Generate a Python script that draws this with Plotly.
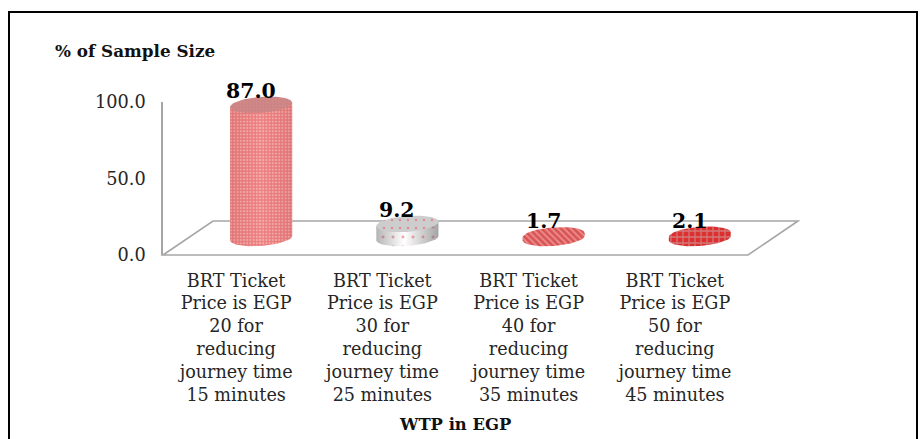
import numpy as np
import plotly.graph_objects as go

categories = [
    "BRT Ticket<br>Price is EGP<br>20 for<br>reducing<br>journey time<br>15 minutes",
    "BRT Ticket<br>Price is EGP<br>30 for<br>reducing<br>journey time<br>25 minutes",
    "BRT Ticket<br>Price is EGP<br>40 for<br>reducing<br>journey time<br>35 minutes",
    "BRT Ticket<br>Price is EGP<br>50 for<br>reducing<br>journey time<br>45 minutes",
]
values = [87.0, 9.2, 1.7, 2.1]
value_labels = ["87.0", "9.2", "1.7", "2.1"]
y_ticks = [0, 50, 100]
y_tick_labels = ["0.0", "50.0", "100.0"]
y_title = "% of Sample Size"
x_title = "WTP in EGP"

W, H = 920, 439
FONT = "DejaVu Serif"
X = lambda p: p / W
Y = lambda p: 1 - p / H

AX_L, AX_R, AX_T, AX_B = 163, 748, 102, 255   # front plane
DX, DY = 50, 34                               # floor depth
BAR_DX, BAR_DY = 25, 17                       # bars stand mid-depth
BAR_HEADROOM = 30                             # room above the axis so the top cap is not clipped
unit = (AX_B - AX_T) / 100
BAR_W = 0.425
cap_b = 8.0 / unit
tilt = 2.2 / unit

styles = [
    dict(shade=[[0, "rgba(150,40,40,0.14)"], [0.5, "rgba(150,40,40,0)"], [1, "rgba(150,40,40,0.14)"]],
         pat=dict(shape=".", fgcolor="#fde8e8", bgcolor="#ee7f7f", size=3.2, solidity=0.35),
         cap=dict(shape=".", fgcolor="#e88a8a", bgcolor="#c98585", size=3.2, solidity=0.35)),
    dict(shade=[[0, "rgba(90,90,90,0.45)"], [0.45, "rgba(90,90,90,0)"], [1, "rgba(90,90,90,0.55)"]],
         pat=dict(shape=".", fgcolor="#e8505a", bgcolor="#ffffff", size=10, solidity=0.07),
         cap=dict(shape=".", fgcolor="#e8505a", bgcolor="#cdcdcd", size=8, solidity=0.08)),
    dict(shade=[[0, "rgba(180,20,20,0)"], [1, "rgba(180,20,20,0)"]],
         pat=dict(shape="\\", fgcolor="#c41c1c", bgcolor="#ec8c8c", size=4.5, solidity=0.6),
         cap=dict(shape="\\", fgcolor="#c41c1c", bgcolor="#ec8c8c", size=4.5, solidity=0.6)),
    dict(shade=[[0, "rgba(230,30,30,0)"], [1, "rgba(230,30,30,0)"]],
         pat=dict(shape="+", fgcolor="#cdbcbc", bgcolor="#dc3030", size=6, solidity=0.38),
         cap=dict(shape="+", fgcolor="#cdbcbc", bgcolor="#dc3030", size=6, solidity=0.38)),
]

t = np.linspace(0, 2 * np.pi, 73)
fig = go.Figure()

# keeps the front axes drawn
fig.add_trace(go.Scatter(x=[0], y=[0], xaxis="x", yaxis="y", mode="markers",
                         marker=dict(opacity=0), hoverinfo="skip", showlegend=False))

for i, (v, s) in enumerate(zip(values, styles)):
    a = np.linspace(np.pi, 2 * np.pi, 37)
    sx = np.concatenate([i + BAR_W / 2 * np.cos(a), [i + BAR_W / 2, i - BAR_W / 2]])
    sy = np.concatenate([cap_b * np.sin(a) + tilt * np.cos(a), [v + tilt, v - tilt]])
    common = dict(xaxis="x2", yaxis="y2", mode="lines", line=dict(width=0), fill="toself",
                  hoverinfo="skip", showlegend=False, cliponaxis=False)
    # cylinder side
    fig.add_trace(go.Scatter(x=sx, y=sy, fillpattern=s["pat"], **common))
    # the value bar
    fig.add_trace(go.Bar(
        x=[i], y=[v], width=BAR_W * 0.94, xaxis="x2", yaxis="y2", showlegend=False,
        marker=dict(color=s["pat"]["bgcolor"], line=dict(width=0), pattern=s["pat"]), cliponaxis=False))
    # side shading
    fig.add_trace(go.Scatter(x=sx, y=sy, fillgradient=dict(type="horizontal", colorscale=s["shade"]), **common))
    # top cap
    fig.add_trace(go.Scatter(x=i + BAR_W / 2 * np.cos(t), y=v + cap_b * np.sin(t) + tilt * np.cos(t),
                             fillpattern=s["cap"], **common))

GREY = "#a6a6a6"
shapes = [
    dict(type="path", xref="paper", yref="paper", layer="below", line=dict(color="#000000", width=2),
         path=f"M{X(9)},{Y(445)} L{X(9)},{Y(12)} L{X(917)},{Y(12)} L{X(917)},{Y(445)}"),
    dict(type="path", xref="paper", yref="paper", layer="below", line=dict(color=GREY, width=1.6),
         path=f"M{X(AX_L)},{Y(AX_B)} L{X(AX_R)},{Y(AX_B)} L{X(AX_R+DX)},{Y(AX_B-DY)} "
              f"L{X(AX_L+DX)},{Y(AX_B-DY)} Z"),
]

annotations = [
    dict(text=f"<b>{y_title}</b>", xref="paper", yref="paper", x=X(53), y=Y(51), xanchor="left",
         yanchor="middle", showarrow=False, font=dict(family=FONT, size=16.8, color="#111111")),
    dict(text=f"<b>{x_title}</b>", xref="paper", yref="paper", x=X(455), y=Y(424), xanchor="center",
         yanchor="middle", showarrow=False, font=dict(family=FONT, size=16.4, color="#111111")),
]
for i, (v, lab) in enumerate(zip(values, value_labels)):
    annotations.append(dict(
        text=f"<b>{lab}</b>", xref="x2", yref="y2", x=i, y=v, xshift=-10.5, yshift=14,
        xanchor="center", yanchor="middle", showarrow=False,
        font=dict(family=FONT, size=20.4, color="#000000")))

fig.update_layout(
    width=W, height=H, autosize=False, margin=dict(l=0, r=0, t=0, b=0),
    paper_bgcolor="white", plot_bgcolor="rgba(0,0,0,0)", showlegend=False,
    barmode="overlay", shapes=shapes, annotations=annotations,
    xaxis=dict(domain=[X(AX_L), X(AX_R)], range=[-0.5, 3.5], anchor="y", automargin=False,
               tickmode="array", tickvals=list(range(len(categories))), ticktext=categories,
               ticks="", showgrid=False, zeroline=False, showline=False,
               tickfont=dict(family=FONT, size=17.6, color="#262626"), ticklabelstandoff=13),
    yaxis=dict(domain=[Y(AX_B), Y(AX_T)], range=[0, 100], anchor="x", automargin=False,
               tickmode="array", tickvals=y_ticks, ticktext=y_tick_labels,
               ticks="", showgrid=False, zeroline=False, showline=True, linecolor=GREY, linewidth=1.6,
               tickfont=dict(family=FONT, size=17.7, color="#262626"), ticklabelstandoff=12),
    xaxis2=dict(domain=[X(AX_L + BAR_DX), X(AX_R + BAR_DX)], range=[-0.5, 3.5], anchor="y2", visible=False),
    yaxis2=dict(domain=[Y(AX_B), Y(AX_T - BAR_HEADROOM)],
                range=[-BAR_DY / unit, 100 + BAR_HEADROOM / unit - BAR_DY / unit], anchor="x2", visible=False),
)
fig.write_html("out.html", config={"displayModeBar": False},
               post_script="document.body.style.margin='0';document.documentElement.style.overflow='hidden';")
